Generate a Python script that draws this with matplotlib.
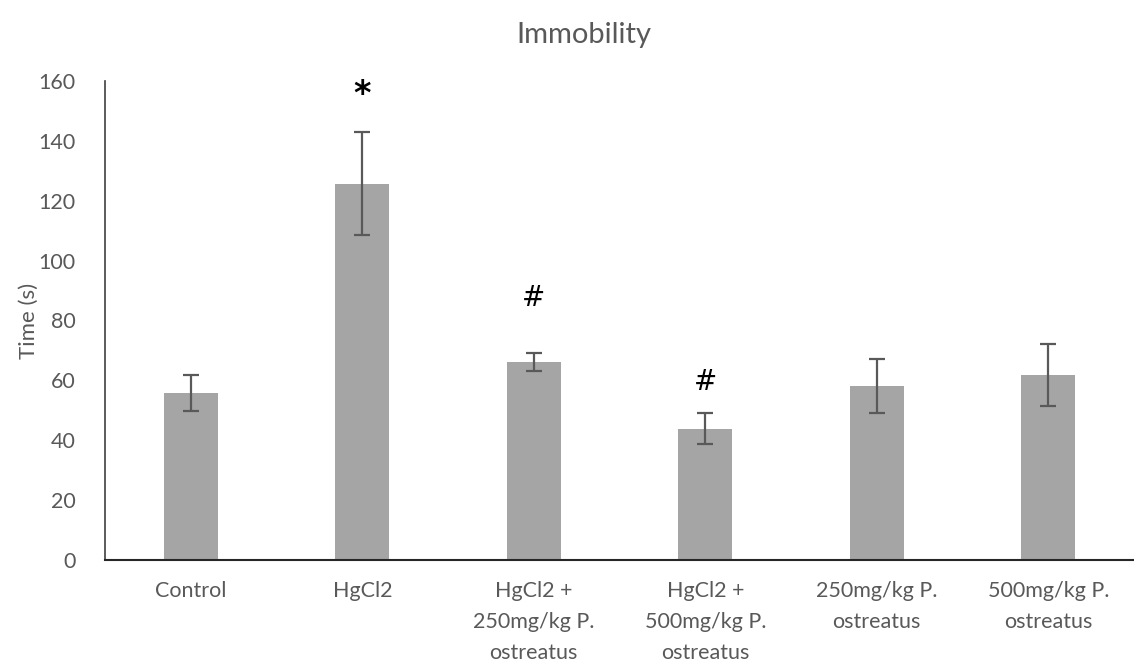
import matplotlib
matplotlib.use("Agg")
import matplotlib as mpl
import matplotlib.pyplot as plt
import numpy as np

mpl.rcParams.update({
    "font.family": ["Lato", "DejaVu Sans"],
    "font.size": 15,
})

groups = ["Control", "HgCl2", "HgCl2 +\n250mg/kg P.\nostreatus", "HgCl2 +\n500mg/kg P.\nostreatus",
          "250mg/kg P.\nostreatus", "500mg/kg P.\nostreatus"]
means = [55.7, 125.7, 66.1, 43.8, 58.2, 61.7]
errors = [6.0, 17.3, 3.0, 5.2, 9.0, 10.4]
sig_marks = ["", "*", "#", "#", "", ""]
sig_y = [None, 155.5, 87.6, 59.6, None, None]

fig = plt.figure(figsize=(11.34, 6.61), dpi=100)
ax = fig.add_axes([0.0926, 0.1528, 0.9074, 0.7247])

x = np.arange(len(groups))
ax.bar(x, means, width=0.315, color="#A5A5A5", zorder=2)
ax.errorbar(x, means, yerr=errors, fmt="none", ecolor="#595959", elinewidth=1.6,
            capsize=5.5, capthick=1.6, zorder=3)

for xi, m, yv in zip(x, sig_marks, sig_y):
    if m:
        if m == "*":
            ax.text(xi, yv, m, ha="center", va="center", fontsize=24, fontweight="bold",
                    color="black", family=["DejaVu Sans"])
        else:
            ax.text(xi, yv, m, ha="center", va="center", fontsize=20, color="black",
                    family=["DejaVu Sans"])

ax.set_xlim(-0.5, len(groups) - 0.5)
ax.set_ylim(0, 160)
ax.set_yticks(np.arange(0, 161, 20))
ax.set_xticks(x)
ax.set_xticklabels(groups, linespacing=1.7)
ax.tick_params(axis="y", length=0, colors="#595959", labelsize=15.5, pad=21)
ax.tick_params(axis="x", length=0, colors="#595959", labelsize=15.5, pad=15)

ax.spines["top"].set_visible(False)
ax.spines["right"].set_visible(False)
ax.spines["left"].set_color("#404040")
ax.spines["left"].set_linewidth(1.2)
ax.spines["bottom"].set_color("#262626")
ax.spines["bottom"].set_linewidth(1.5)

ax.set_ylabel("Time (s)", color="#595959", fontsize=16, labelpad=0)
fig.suptitle("Immobility", x=0.515, y=0.967, fontsize=21, color="#595959")

fig.savefig("out.png", dpi=100, facecolor="white")
